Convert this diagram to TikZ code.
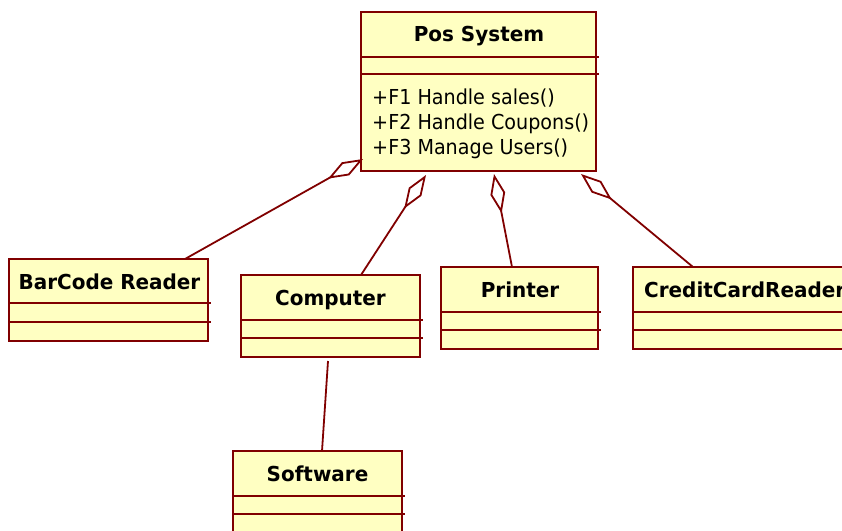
\documentclass[tikz,border=0pt]{standalone}
\usepackage{fontspec}
\setmainfont{DejaVu Sans Condensed}
\newfontfamily\titlefont{DejaVu Sans Condensed}[FakeStretch=1.077]
\newfontfamily\methodfont{DejaVu Sans Condensed}[FakeStretch=1.033]
\usetikzlibrary{arrows.meta}
\definecolor{umlfill}{RGB}{255,255,194}
\definecolor{umlline}{RGB}{128,0,0}
\tikzset{
  classbox/.style={draw=umlline, fill=umlfill, line width=1.8pt, inner sep=0pt, outer sep=0pt, rectangle},
  sepline/.style={draw=umlline, line width=1.8pt},
  title/.style={anchor=base, inner sep=0pt, font=\titlefont\fontsize{20.6}{25}\selectfont\bfseries},
  method/.style={anchor=base west, inner sep=0pt, font=\methodfont\fontsize{20.6}{25}\selectfont},
  conn/.style={draw=umlline, line width=1.8pt},
  agg/.style={conn, {Diamond[open, length=40pt, width=15pt, line width=1.8pt]}-},
}
\begin{document}
\begin{tikzpicture}[x=1pt, y=-1pt]
\useasboundingbox (0,0) rectangle (842,530);
% boxes
\node[classbox, minimum width=235pt, minimum height=159pt] (pos) at (478.5,91.5) {};
\node[classbox, minimum width=199pt, minimum height=82pt] (bar) at (108.5,300) {};
\node[classbox, minimum width=179pt, minimum height=82pt] (comp) at (330.5,316) {};
\node[classbox, minimum width=157pt, minimum height=82pt] (prn) at (519.5,308) {};
\node[classbox, minimum width=220pt, minimum height=82pt] (ccr) at (743,308) {};
\node[classbox, minimum width=169pt, minimum height=82pt] (soft) at (317.5,492) {};
% separators
\foreach \b/\a/\c in {pos/45/62, bar/44/63, comp/45/63, prn/45/63, ccr/45/63, soft/45/63}{
  \draw[sepline] ([shift={(0,\a)}]\b.north west) -- ([shift={(3,\a)}]\b.north east);
  \draw[sepline] ([shift={(0,\c)}]\b.north west) -- ([shift={(3,\c)}]\b.north east);
}
% titles
\node[title] (tpos) at (479,41) {Pos System};
\node[title] (tbar) at (109.5,289) {BarCode Reader};
\node[title] (tcomp) at (330.5,305) {Computer};
\node[title] (tprn) at (520,297) {Printer};
\node[title, anchor=base west] (tccr) at (644,297) {CreditCardReader};
\node[title] (tsoft) at (317.5,481) {Software};
% methods
\node[method] (m1) at (372,104) {+F1 Handle sales()};
\node[method] (m2) at (372,129) {+F2 Handle Coupons()};
\node[method] (m3) at (372,154) {+F3 Manage Users()};
% connectors
\draw[agg] ([shift={(2,-12)}]pos.south west) -- ([shift={(176,0)}]bar.north west);
\draw[agg] ([shift={(65,4)}]pos.south west) -- ([shift={(120,0)}]comp.north west);
\draw[agg] ([shift={(133,3)}]pos.south west) -- ([shift={(71,0)}]prn.north west);
\draw[agg] ([shift={(220,3)}]pos.south west) -- ([shift={(60,0)}]ccr.north west);
\draw[conn] ([shift={(87,4)}]comp.south west) -- ([shift={(89,0)}]soft.north west);
\end{tikzpicture}
\end{document}
